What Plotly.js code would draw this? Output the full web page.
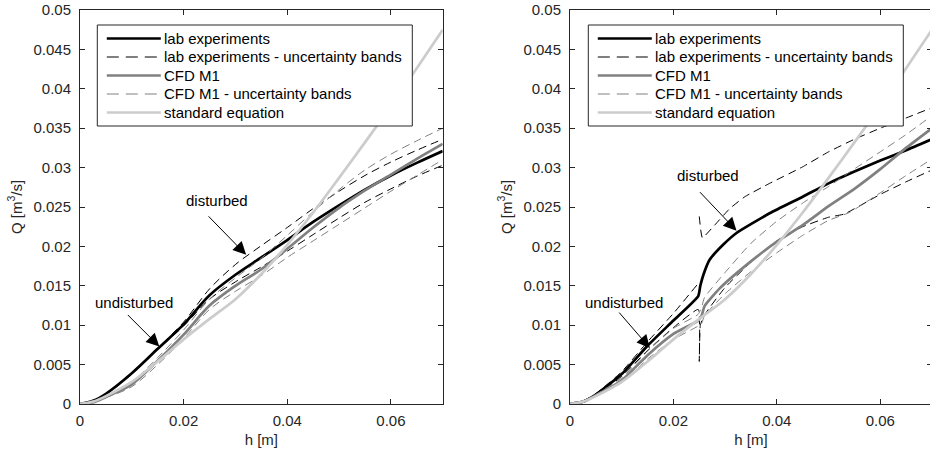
<!DOCTYPE html>
<html>
<head>
<meta charset="utf-8">
<script src="https://cdn.plot.ly/plotly-3.0.1.min.js"></script>
<style>
html,body{margin:0;padding:0;overflow:hidden;background:#fff;width:930px;height:453px;}
#chart{width:933px;height:453px;}
</style>
</head>
<body>
<div id="chart"></div>
<script>
// ---------- Left panel ----------
var hL       = [0, 0.0025, 0.005, 0.01, 0.015, 0.02, 0.025, 0.03, 0.035, 0.04, 0.045, 0.05, 0.055, 0.06, 0.065, 0.07];
var labL     = [0, 0.0004, 0.0013, 0.0039, 0.0070, 0.0101, 0.0138, 0.0164, 0.0186, 0.0208, 0.0231, 0.0252, 0.0272, 0.0290, 0.0306, 0.0321];
var labUpL   = [0, 0.0004, 0.0013, 0.0040, 0.0071, 0.0104, 0.0146, 0.0177, 0.0201, 0.0224, 0.0248, 0.0270, 0.0290, 0.0307, 0.0322, 0.0336];
var labLoL   = [0, 0.0004, 0.0012, 0.0038, 0.0069, 0.0099, 0.0133, 0.0155, 0.0174, 0.0194, 0.0215, 0.0236, 0.0256, 0.0273, 0.0289, 0.0303];
var cfdL     = [0, 0.0002, 0.0009, 0.0025, 0.0055, 0.0088, 0.0125, 0.0150, 0.0171, 0.0197, 0.0224, 0.0249, 0.0271, 0.0291, 0.0311, 0.0330];
var cfdUpL   = [0, 0.0003, 0.0010, 0.0028, 0.0059, 0.0094, 0.0133, 0.0160, 0.0185, 0.0214, 0.0244, 0.0272, 0.0297, 0.0317, 0.0334, 0.0350];
var cfdLoL   = [0, 0.0002, 0.0008, 0.0022, 0.0050, 0.0083, 0.0120, 0.0143, 0.0163, 0.0186, 0.0207, 0.0228, 0.0249, 0.0270, 0.0290, 0.0310];

// ---------- Standard equation (both panels) ----------
var hStd     = [0, 0.0025, 0.005, 0.01, 0.015, 0.02, 0.025, 0.03, 0.035, 0.04, 0.045, 0.05, 0.055, 0.06, 0.065, 0.07];
var stdQ     = [0, 0.0003, 0.0010, 0.0028, 0.0054, 0.0082, 0.0108, 0.0133, 0.0165, 0.0202, 0.0243, 0.0287, 0.0332, 0.0378, 0.0426, 0.0475];

// ---------- Right panel ----------
var hRLab    = [0, 0.0025, 0.005, 0.01, 0.015, 0.02, 0.0248, 0.0252, 0.0258, 0.027, 0.0296, 0.0322, 0.0386, 0.045, 0.05, 0.055, 0.06, 0.065, 0.07];
var labR     = [0, 0.0003, 0.0012, 0.0038, 0.0074, 0.0106, 0.0137, 0.0150, 0.0164, 0.0183, 0.0202, 0.0217, 0.0242, 0.0263, 0.0280, 0.0295, 0.0309, 0.0322, 0.0336];
var hRLabUp  = [0, 0.0025, 0.005, 0.01, 0.015, 0.02, 0.0248, 0.0249, 0.025, 0.0256, 0.0277, 0.0309, 0.0338, 0.0386, 0.045, 0.05, 0.055, 0.06, 0.065, 0.07];
var labUpR   = [0, 0.0004, 0.0013, 0.0041, 0.0079, 0.0115, 0.0153, null, 0.0238, 0.0211, 0.0225, 0.0248, 0.0263, 0.0280, 0.0301, 0.0320, 0.0336, 0.0350, 0.0363, 0.0376];
var hRLabLo  = [0, 0.0025, 0.005, 0.01, 0.015, 0.02, 0.0248, 0.025, 0.0252, 0.026, 0.03, 0.035, 0.0402, 0.045, 0.05, 0.053, 0.06, 0.065, 0.07];
var labLoR   = [0, 0.0003, 0.0011, 0.0035, 0.0068, 0.0097, 0.0120, 0.0054, 0.0100, 0.0113, 0.0148, 0.0180, 0.0208, 0.0225, 0.0237, 0.0241, 0.0266, 0.0282, 0.0297];
var hRCfd    = [0, 0.0025, 0.005, 0.01, 0.015, 0.02, 0.0248, 0.0255, 0.026, 0.029, 0.0348, 0.04, 0.045, 0.05, 0.055, 0.06, 0.065, 0.07];
var cfdR     = [0, 0.0003, 0.0011, 0.0030, 0.0062, 0.0089, 0.0106, 0.0113, 0.0124, 0.0147, 0.0180, 0.0206, 0.0227, 0.0251, 0.0273, 0.0298, 0.0325, 0.0350];
var hRCfdB   = [0, 0.0025, 0.005, 0.01, 0.015, 0.02, 0.0248, 0.0255, 0.026, 0.03, 0.035, 0.04, 0.045, 0.05, 0.054, 0.06, 0.065, 0.07];
var cfdUpR   = [0, 0.0003, 0.0012, 0.0033, 0.0067, 0.0096, 0.0114, 0.0124, 0.0135, 0.0167, 0.0204, 0.0232, 0.0255, 0.0276, 0.0294, 0.0320, 0.0342, 0.0366];
var cfdLoR   = [0, 0.0003, 0.0010, 0.0027, 0.0057, 0.0082, 0.0099, 0.0103, 0.0112, 0.0140, 0.0168, 0.0192, 0.0214, 0.0233, 0.0243, 0.0268, 0.0290, 0.0311];

// ---------- Labels ----------
var seriesNames = ['lab experiments', 'lab experiments - uncertainty bands', 'CFD M1', 'CFD M1 - uncertainty bands', 'standard equation'];
var xTickVals = [0, 0.02, 0.04, 0.06];
var xTickText = ['0', '0.02', '0.04', '0.06'];
var yTickVals = [0, 0.005, 0.01, 0.015, 0.02, 0.025, 0.03, 0.035, 0.04, 0.045, 0.05];
var yTickText = ['0', '0.005', '0.01', '0.015', '0.02', '0.025', '0.03', '0.035', '0.04', '0.045', '0.05'];

var FONT = 'Liberation Sans, Arial, Helvetica, sans-serif';
var FS = 15;
var AX = '#262626';
var BLACK = '#000000', GRAY = '#808080', LIGHT = '#cccccc';
var DASH = '8px,5px';
var seriesStyle = [
  {color: BLACK, width: 2.7, dash: 'solid'},
  {color: BLACK, width: 1,   dash: DASH},
  {color: GRAY,  width: 2.7, dash: 'solid'},
  {color: GRAY,  width: 1,   dash: DASH},
  {color: LIGHT, width: 2.7, dash: 'solid'}
];

function tr(x, y, xa, ya, s, name, smooth) {
  return {
    type: 'scatter', mode: 'lines', x: x, y: y, xaxis: xa, yaxis: ya,
    name: name, showlegend: false,
    line: {color: s.color, width: s.width, dash: s.dash, shape: 'spline', smoothing: smooth},
    hoverinfo: 'skip', connectgaps: false
  };
}

var data = [
  tr(hL, labL,   'x', 'y', seriesStyle[0], seriesNames[0], 0.9),
  tr(hL, labUpL, 'x', 'y', seriesStyle[1], seriesNames[1], 0.9),
  tr(hL, labLoL, 'x', 'y', seriesStyle[1], seriesNames[1], 0.9),
  tr(hL, cfdL,   'x', 'y', seriesStyle[2], seriesNames[2], 0.9),
  tr(hL, cfdUpL, 'x', 'y', seriesStyle[3], seriesNames[3], 0.9),
  tr(hL, cfdLoL, 'x', 'y', seriesStyle[3], seriesNames[3], 0.9),
  tr(hStd, stdQ, 'x', 'y', seriesStyle[4], seriesNames[4], 0.9),
  tr(hRLab,   labR,   'x2', 'y2', seriesStyle[0], seriesNames[0], 0.5),
  tr(hRLabUp, labUpR, 'x2', 'y2', seriesStyle[1], seriesNames[1], 0.4),
  tr(hRLabLo, labLoR, 'x2', 'y2', seriesStyle[1], seriesNames[1], 0.4),
  tr(hRCfd,   cfdR,   'x2', 'y2', seriesStyle[2], seriesNames[2], 0.5),
  tr(hRCfdB,  cfdUpR, 'x2', 'y2', seriesStyle[3], seriesNames[3], 0.5),
  tr(hRCfdB,  cfdLoR, 'x2', 'y2', seriesStyle[3], seriesNames[3], 0.5),
  tr(hStd,    stdQ,   'x2', 'y2', seriesStyle[4], seriesNames[4], 0.9)
];

function xax(domain, anchor) {
  return {
    domain: domain, anchor: anchor, range: [0, 0.07], autorange: false,
    tickvals: xTickVals, ticktext: xTickText,
    ticks: 'inside', ticklen: 5, tickwidth: 1, tickcolor: AX,
    showline: true, linecolor: AX, linewidth: 1, mirror: 'ticks',
    showgrid: false, zeroline: false,
    tickfont: {family: FONT, size: FS, color: AX},
    ticklabelstandoff: 3,
    title: {text: 'h [m]', font: {family: FONT, size: FS, color: AX}, standoff: 6}
  };
}
function yax(anchor) {
  return {
    domain: [0, 1], anchor: anchor, range: [0, 0.05], autorange: false,
    tickvals: yTickVals, ticktext: yTickText,
    ticks: 'inside', ticklen: 5, tickwidth: 1, tickcolor: AX,
    showline: true, linecolor: AX, linewidth: 1, mirror: 'ticks',
    showgrid: false, zeroline: false,
    tickfont: {family: FONT, size: FS, color: AX},
    ticklabelstandoff: 5,
    title: {text: 'Q [m<sup>3</sup>/s]', font: {family: FONT, size: FS, color: AX}, standoff: 7}
  };
}

// ---------- Legend boxes drawn in paper space (pixel geometry -> paper fractions) ----------
var ML = 80, MT = 10, PW = 852, PH = 394;
function px(x) { return (x - ML) / PW; }
function py(y) { return 1 - (y - MT) / PH; }

var shapes = [], annotations = [];
function addLegend(left) {
  var right = left + 315, top = 25, bottom = 126;
  shapes.push({type: 'rect', xref: 'paper', yref: 'paper', x0: px(left), x1: px(right), y0: py(bottom), y1: py(top),
               fillcolor: '#ffffff', line: {color: AX, width: 1}, layer: 'above'});
  for (var i = 0; i < seriesNames.length; i++) {
    var yy = 38.5 + 18.5 * i;
    var s = seriesStyle[i];
    shapes.push({type: 'line', xref: 'paper', yref: 'paper', x0: px(left + 9.5), x1: px(left + 63.5), y0: py(yy), y1: py(yy),
                 line: {color: s.color, width: s.width, dash: s.dash === 'solid' ? 'solid' : '12px,7px'}, layer: 'above'});
    annotations.push({xref: 'paper', yref: 'paper', x: px(left + 66), y: py(yy), text: seriesNames[i], showarrow: false,
                      xanchor: 'left', yanchor: 'middle', borderpad: 0, font: {family: FONT, size: FS, color: '#000000'}});
  }
}
addLegend(97.3);
addLegend(588.3);

function arrow(xa, ya, x, y, ax, ay) {
  return {xref: xa, yref: ya, x: x, y: y, ax: ax, ay: ay, text: '', showarrow: true,
          arrowhead: 2, arrowsize: 2.6, arrowwidth: 1, arrowcolor: '#000000', standoff: 0, startstandoff: 0};
}
function label(xa, ya, x, y, t) {
  return {xref: xa, yref: ya, x: x, y: y, text: t, showarrow: false,
          font: {family: FONT, size: FS, color: '#000000'}, xanchor: 'center', yanchor: 'middle'};
}
annotations = annotations.concat([
  label('x', 'y', 0.02646, 0.02578, 'disturbed'),
  label('x', 'y', 0.01037, 0.01285, 'undisturbed'),
  arrow('x', 'y', 0.03206, 0.01893, -39, -40),
  arrow('x', 'y', 0.01531, 0.0073, -33, -33),
  label('x2', 'y2', 0.02665, 0.02895, 'disturbed'),
  label('x2', 'y2', 0.01043, 0.01285, 'undisturbed'),
  arrow('x2', 'y2', 0.0322, 0.0220, -38, -40),
  arrow('x2', 'y2', 0.01545, 0.0071, -32, -37)
]);

var layout = {
  width: 933, height: 453,
  margin: {l: 80, r: 1, t: 10, b: 49, pad: 0},
  paper_bgcolor: '#ffffff', plot_bgcolor: '#ffffff',
  xaxis: xax([0, 0.4257], 'y'),
  yaxis: yax('x'),
  xaxis2: xax([0.5751, 1], 'y2'),
  yaxis2: yax('x2'),
  shapes: shapes,
  annotations: annotations,
  showlegend: false
};

Plotly.newPlot('chart', data, layout, {staticPlot: true, displayModeBar: false});
</script>
</body>
</html>
